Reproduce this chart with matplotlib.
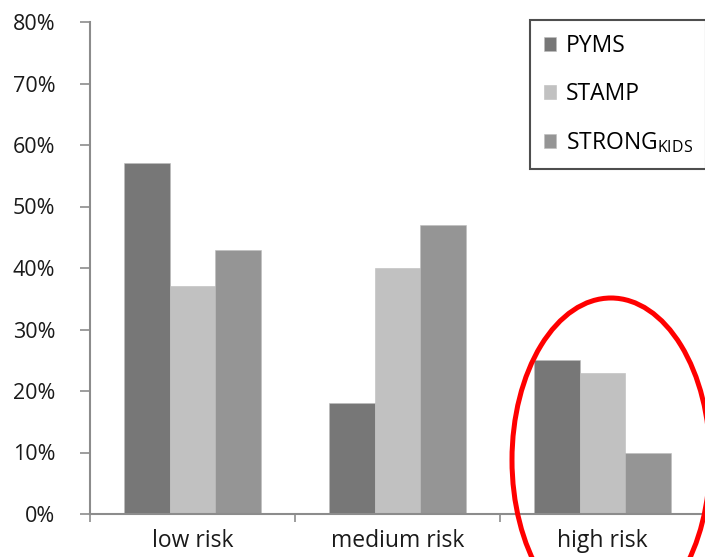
import matplotlib
matplotlib.use("Agg")
import matplotlib.pyplot as plt
from matplotlib.patches import Ellipse
from matplotlib.ticker import PercentFormatter
import numpy as np

# risk groups and share of patients per screening tool (%)
categories = ["low risk", "medium risk", "high risk"]
series_names = ["PYMS", "STAMP", "STRONG$_{KIDS}$"]
pyms = [57, 18, 25]
stamp = [37, 40, 23]
strong_kids = [43, 47, 10]
colors = ["#777777", "#c1c1c1", "#959595"]

plt.rcParams["font.family"] = ["Open Sans", "DejaVu Sans"]
plt.rcParams["mathtext.default"] = "regular"

W, H = 705, 557
fig = plt.figure(figsize=(W / 100, H / 100), dpi=100)
ax = fig.add_axes([90 / W, 1 - 514 / H, (W - 90) / W, (514 - 22) / H])

x = np.arange(len(categories))
bw = 0.224
for i, (vals, name) in enumerate(zip([pyms, stamp, strong_kids], series_names)):
    ax.bar(x + (i - 1) * bw, vals, width=bw, color=colors[i], label=name,
           edgecolor="#bdbdbd", linewidth=0.4)

ax.set_ylim(0, 80)
ax.set_yticks(np.arange(0, 81, 10))
ax.yaxis.set_major_formatter(PercentFormatter(decimals=0))
ax.set_xlim(-0.5, -0.5 + (W - 90) / 206)
ax.set_xticks(np.arange(-0.5, 3, 1.0))
ax.set_xticklabels([])
ax.set_xticks(x, minor=True)
ax.set_xticklabels(categories, minor=True)
ax.tick_params(axis="x", which="minor", length=0, pad=11, labelsize=16.5, labelcolor="#1a1a1a")
ax.tick_params(axis="x", which="major", length=6, color="#8c8c8c", width=1.2)
ax.tick_params(axis="y", length=7, color="#8c8c8c", width=1.2, pad=18,
               labelsize=15.5, labelcolor="#1a1a1a")

for s in ["top", "right"]:
    ax.spines[s].set_visible(False)
for s in ["left", "bottom"]:
    ax.spines[s].set_color("#8c8c8c")
    ax.spines[s].set_linewidth(1.5)

leg = fig.legend(loc="upper left", bbox_to_anchor=(530 / W, 1 - 20 / H),
                 borderaxespad=0, fontsize=16.5, frameon=True, fancybox=False,
                 handlelength=0.55, handleheight=0.55, handletextpad=0.4,
                 labelspacing=1.05, borderpad=0.6)
leg.get_frame().set_edgecolor("#222222")
leg.get_frame().set_linewidth(1.5)

# highlight around the high risk group
ring = Ellipse((611 / W, 1 - 460 / H), 198 / W, 324 / H, transform=fig.transFigure,
               fill=False, edgecolor="#ff0000", linewidth=3.6, clip_on=False)
fig.patches.append(ring)

fig.savefig("out.png", dpi=100)
